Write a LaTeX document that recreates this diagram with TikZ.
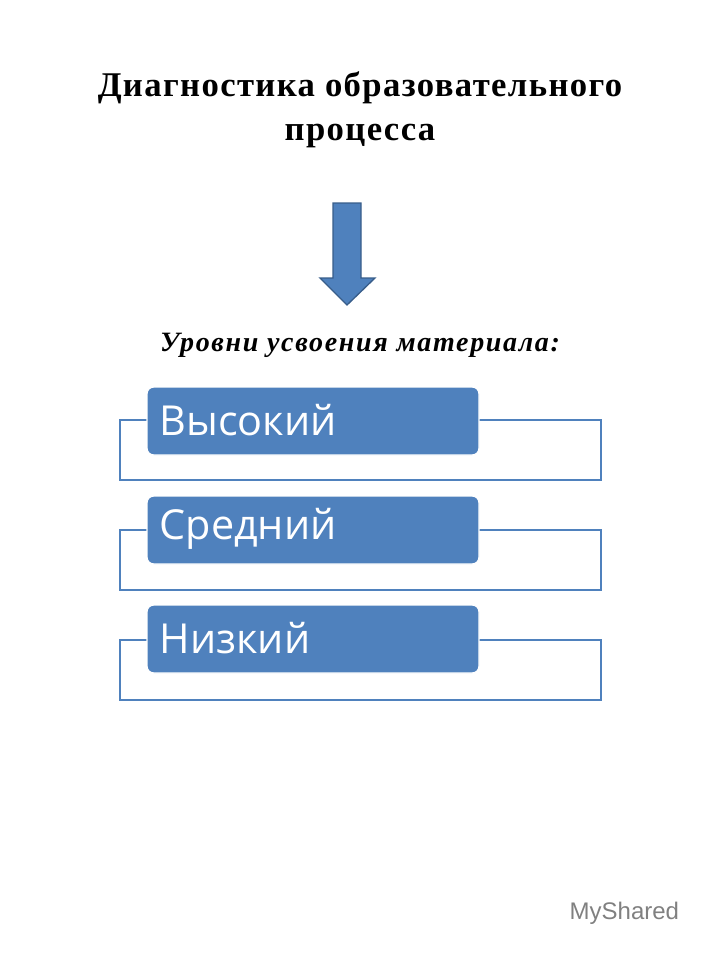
\documentclass[tikz,border=0pt]{standalone}
\usepackage{fontspec}
\setmainfont{Liberation Serif}
\newfontfamily\levelfont{Open Sans}
\newfontfamily\logofont{Liberation Sans}
\usetikzlibrary{positioning}
\definecolor{levelblue}{HTML}{4F81BD}
\definecolor{edgeblue}{HTML}{385D8A}
\tikzset{
    frame/.style={draw=levelblue, line width=1.5pt},
    level/.style={fill=levelblue, draw=white, line width=1pt, rounded corners=5pt},
    leveltext/.style={anchor=west, text=white, font=\levelfont\fontsize{31}{34}\selectfont}
  }
\begin{document}
\begin{tikzpicture}[x=0.75pt,y=-0.75pt]
    \useasboundingbox (0,0) rectangle (720,960);
    \node[font=\bfseries\fontsize{26}{33}\selectfont, align=center] (title) at (360,110) {\addfontfeature{LetterSpace=4}Диагностика образовательного\\\addfontfeature{LetterSpace=4}процесса};
    \draw[fill=levelblue, draw=edgeblue, line width=1pt] (333,203) -- (361,203) -- (361,278) -- (375,278) -- (347,305) -- (320,278) -- (333,278) -- cycle;
    \node[font=\bfseries\itshape\fontsize{21}{24}\selectfont] (sub) at (360,345) {\addfontfeature{LetterSpace=6}Уровни усвоения материала:};

    \draw[frame] (120,420) rectangle (601,480);
    \draw[level] (147,387) rectangle (479,455);
    \node[leveltext] (high) at (155,420) {Высокий};

    \draw[frame] (120,530) rectangle (601,590);
    \draw[level] (147,496) rectangle (479,564);
    \node[leveltext] (mid) at (155,529) {Средний};

    \draw[frame] (120,640) rectangle (601,700);
    \draw[level] (147,605) rectangle (479,673);
    \node[leveltext] (low) at (155,638) {Низкий};

    \node[text=gray, font=\logofont\fontsize{18}{20}\selectfont, anchor=west] (logo) at (565,913) {MyShared};
\end{tikzpicture}
\end{document}
